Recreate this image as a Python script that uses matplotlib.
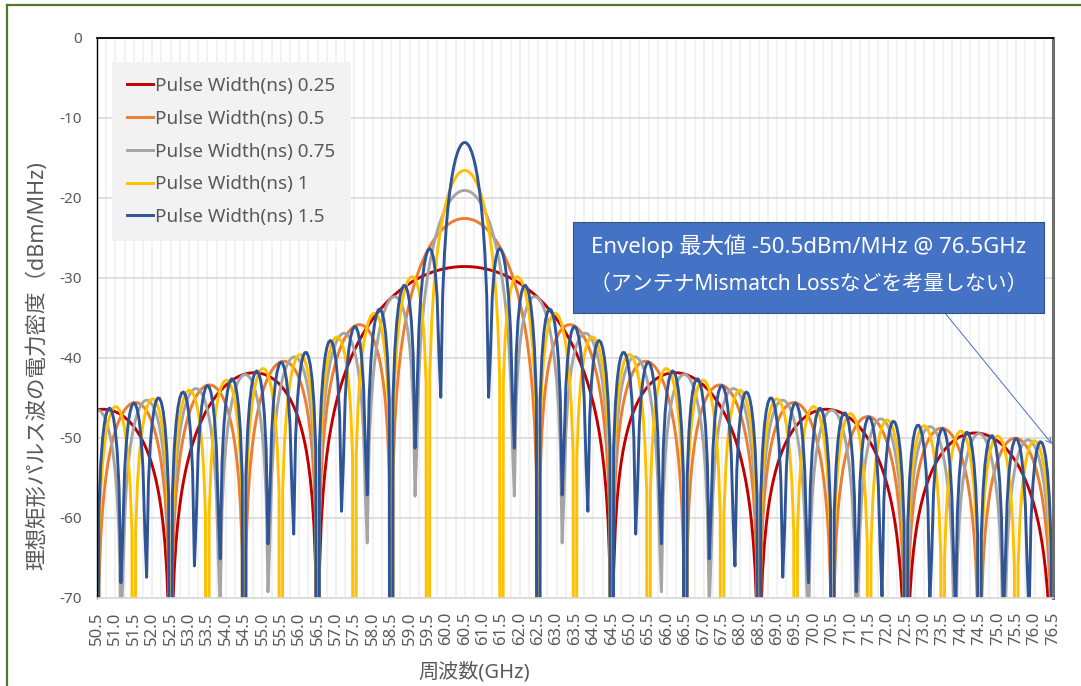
import numpy as np
import matplotlib
matplotlib.use('Agg')
import matplotlib.pyplot as plt
from matplotlib.lines import Line2D

plt.rcParams['font.family'] = ['Noto Sans', 'Noto Sans CJK JP', 'DejaVu Sans']
plt.rcParams['axes.unicode_minus'] = False

# values
pulse_widths = [0.25, 0.5, 0.75, 1, 1.5]          # ns
peak_dbm = [-28.6, -22.6, -19.1, -16.6, -13.1]    # dBm/MHz at centre
center_ghz = 60.5
f_start, f_stop, f_step = 50.5, 76.5, 0.05        # GHz sample grid
series_labels = ['Pulse Width(ns) %s' % w for w in ['0.25', '0.5', '0.75', '1', '1.5']]
colors = ['#c00000', '#ed7d31', '#a5a5a5', '#ffc000', '#2f5597']

freq = np.round(np.arange(f_start, f_stop + f_step / 2, f_step), 3)

fig = plt.figure(figsize=(10.81, 6.86), dpi=100)
ax = fig.add_axes([97 / 1081, 1 - 598 / 686, (1053 - 97) / 1081, (598 - 37.5) / 686])

# ideal rectangular pulse spectrum: peak * sinc^2((f - fc) * T)
for T, p0, lab, c in zip(pulse_widths, peak_dbm, series_labels, colors):
    s = np.sinc((freq - center_ghz) * T) ** 2
    with np.errstate(divide='ignore'):
        db = p0 + 10 * np.log10(s)
    db = np.where(np.isfinite(db), db, -300)
    ax.plot(freq, db, color=c, lw=2.1, label=lab, solid_joinstyle='round')

ax.set_xlim(f_start, f_stop)
ax.set_ylim(-70, 0)
ax.set_yticks(np.arange(-70, 1, 10))
xt = np.arange(f_start, f_stop + 0.01, 0.5)
ax.set_xticks(xt)
ax.set_xticklabels(['%.1f' % v for v in xt], rotation=90)
ax.set_xticks(np.arange(f_start, f_stop + 0.01, 0.25), minor=True)
ax.tick_params(axis='both', length=0, colors='#595959', labelsize=11, pad=11)
ax.tick_params(axis='x', labelsize=12, pad=10)
ax.tick_params(axis='x', which='minor', length=0)

ax.grid(axis='y', color='#d9d9d9', lw=1.2)
ax.grid(axis='x', which='both', color='#f2f2f2', lw=1.5)
ax.set_axisbelow(True)

ax.spines['top'].set_color('black')
ax.spines['top'].set_linewidth(1.3)
ax.spines['left'].set_color('black')
ax.spines['left'].set_linewidth(1.0)
ax.spines['right'].set_color('#6e6e6e')
ax.spines['right'].set_linewidth(2.2)
ax.spines['bottom'].set_color('#d9d9d9')
ax.spines['bottom'].set_linewidth(1.2)

leg = ax.legend(loc='upper left', bbox_to_anchor=(15 / 956, 1 - 24.5 / 560.5),
                frameon=True, fancybox=False, fontsize=13.6, handlelength=1.35,
                handletextpad=0.15, labelspacing=0.78, borderpad=0.8,
                borderaxespad=0)
leg.get_frame().set_facecolor('#f2f2f2')
leg.get_frame().set_edgecolor('none')
leg.get_frame().set_alpha(1)
for t in leg.get_texts():
    t.set_color('#595959')

ax.set_ylabel('理想矩形パルス波の電力密度（dBm/MHz)', color='#595959', fontsize=15.5)
ax.yaxis.set_label_coords(-49 / 956, 0.415)
ax.set_xlabel('周波数(GHz)', color='#595959', fontsize=14.5)
ax.xaxis.set_label_coords((474 - 97) / 956, -64 / 560.5)

# annotation box with arrow
ax.annotate('', xy=(1052, 686 - 444), xycoords='figure pixels',
            xytext=(945, 686 - 313), textcoords='figure pixels',
            arrowprops=dict(arrowstyle='->', color='#4472c4', lw=0.7,
                            shrinkA=0, shrinkB=0))
box = plt.Rectangle((573 / 1081, 1 - 313 / 686), 471 / 1081, 91 / 686,
                    transform=fig.transFigure, facecolor='#4472c4',
                    edgecolor='#2f528f', lw=0.8, zorder=5)
fig.add_artist(box)
fig.text(809 / 1081, 1 - 246 / 686, 'Envelop 最大値 -50.5dBm/MHz @ 76.5GHz',
         color='white', fontsize=16, ha='center', va='center', zorder=6)
fig.text(809 / 1081, 1 - 284 / 686, '（アンテナMismatch Lossなどを考量しない）',
         color='white', fontsize=15, ha='center', va='center', zorder=6)

# outer frame (left and top edges visible)
fig.add_artist(Line2D([7.3 / 1081, 7.3 / 1081], [0, 1 - 5.3 / 686],
                      transform=fig.transFigure, color='#4e7a2e', lw=1.6))
fig.add_artist(Line2D([7.3 / 1081, 1], [1 - 5.3 / 686, 1 - 5.3 / 686],
                      transform=fig.transFigure, color='#4e7a2e', lw=1.6))

fig.savefig('out.png', dpi=100)
